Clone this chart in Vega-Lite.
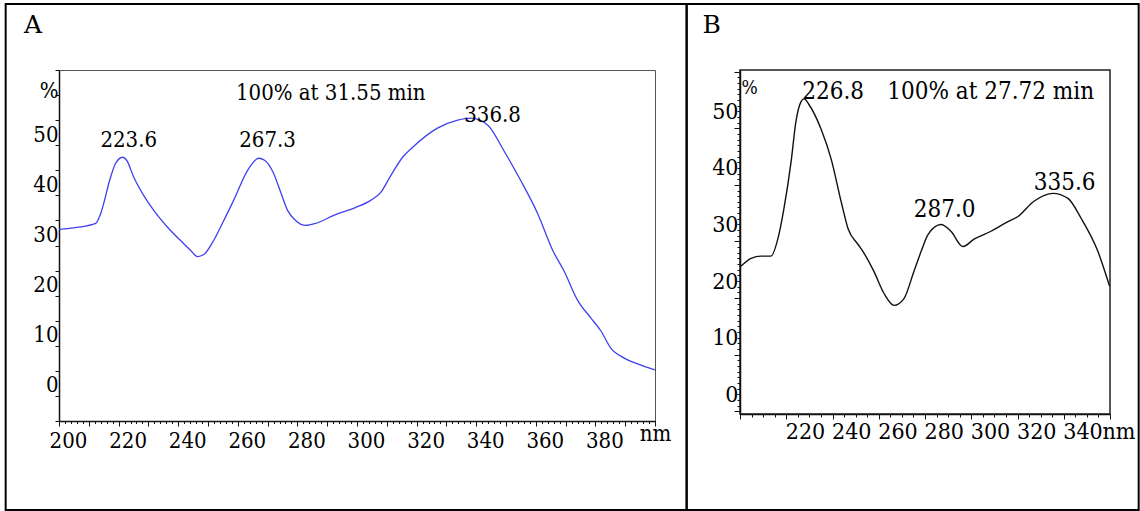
{
  "$schema": "https://vega.github.io/schema/vega-lite/v6.json",
  "padding": {"left": 4, "top": 2, "right": 0, "bottom": 0},
  "bounds": "flush",
  "spacing": 85,
  "background": "white",
  "config": {"font": "DejaVu Serif Condensed", "axis": {"labelFont": "DejaVu Serif Condensed", "labelColor": "#000", "grid": false, "labelOverlap": false, "labelFlush": false, "labelBound": false}},
  "hconcat": [
    {
      "width": 596,
      "height": 351,
      "view": {"stroke": "#555", "strokeWidth": 1},
      "layer": [
        {
          "data": {"values": [
            {"nm": 200, "pct": 28.2}, {"nm": 206, "pct": 28.6}, {"nm": 212.3, "pct": 29.4}, {"nm": 214, "pct": 31.4},
            {"nm": 217.3, "pct": 38.6}, {"nm": 219, "pct": 41.4}, {"nm": 221.4, "pct": 42.6}, {"nm": 222.7, "pct": 42.0},
            {"nm": 225.1, "pct": 38.6}, {"nm": 228.4, "pct": 35.0}, {"nm": 231.8, "pct": 32.0}, {"nm": 236.5, "pct": 28.6},
            {"nm": 241.8, "pct": 25.4}, {"nm": 244.2, "pct": 24.0}, {"nm": 246.5, "pct": 22.8}, {"nm": 248.6, "pct": 23.2},
            {"nm": 251.9, "pct": 26.0}, {"nm": 255.3, "pct": 30.0}, {"nm": 258.6, "pct": 34.0}, {"nm": 263.3, "pct": 40.0},
            {"nm": 267.0, "pct": 42.4}, {"nm": 269.0, "pct": 42.0}, {"nm": 272.0, "pct": 39.4}, {"nm": 274.4, "pct": 35.6},
            {"nm": 276.7, "pct": 32.0}, {"nm": 279.4, "pct": 30.0}, {"nm": 282.8, "pct": 29.0}, {"nm": 286.1, "pct": 29.4},
            {"nm": 292.2, "pct": 31.0}, {"nm": 299.6, "pct": 32.6}, {"nm": 304.6, "pct": 34.0}, {"nm": 308.0, "pct": 35.6},
            {"nm": 311.0, "pct": 38.6}, {"nm": 315.3, "pct": 42.6}, {"nm": 318.7, "pct": 44.6}, {"nm": 327.0, "pct": 48.4},
            {"nm": 333.8, "pct": 50.0}, {"nm": 338.2, "pct": 50.4}, {"nm": 343.9, "pct": 49.0}, {"nm": 349.2, "pct": 44.0},
            {"nm": 354.9, "pct": 38.0}, {"nm": 360.6, "pct": 31.4}, {"nm": 365.7, "pct": 24.0}, {"nm": 369.4, "pct": 20.0},
            {"nm": 374.1, "pct": 14.0}, {"nm": 378.4, "pct": 10.6}, {"nm": 381.8, "pct": 8.0}, {"nm": 385.1, "pct": 4.6},
            {"nm": 389.5, "pct": 2.6}, {"nm": 394.2, "pct": 1.4}, {"nm": 400, "pct": 0.2}
          ]},
          "mark": {"type": "line", "color": "#4040f0", "strokeWidth": 1.3, "interpolate": "monotone"},
          "encoding": {
            "x": {
              "field": "nm", "type": "quantitative",
              "scale": {"domain": [200, 400], "nice": false, "zero": false},
              "axis": {
                "title": null,
                "tickCount": 1000,
                "values": [200,202,204,206,208,210,212,214,216,218,220,222,224,226,228,230,232,234,236,238,240,242,244,246,248,250,252,254,256,258,260,262,264,266,268,270,272,274,276,278,280,282,284,286,288,290,292,294,296,298,300,302,304,306,308,310,312,314,316,318,320,322,324,326,328,330,332,334,336,338,340,342,344,346,348,350,352,354,356,358,360,362,364,366,368,370,372,374,376,378,380,382,384,386,388,390,392,394,396,398,400],
                "labelOverlap": false, "labelBound": false, "labelFlush": false,
                "domainColor": "#111", "domainWidth": 1.5,
                "tickColor": "#111", "tickWidth": 1,
                "tickSize": {"condition": {"test": "datum.value % 10 === 0", "value": 5}, "value": 2.5},
                "labelExpr": "datum.value === 400 ? 'nm' : (datum.value % 20 === 0 ? format(datum.value, 'd') : '')",
                "labelFontSize": 22,
                "labelOffset": {"condition": {"test": "datum.value === 400", "value": 0}, "value": 9},
                "labelPadding": {"condition": {"test": "datum.value === 400", "value": -3}, "value": 4}
              }
            },
            "y": {
              "field": "pct", "type": "quantitative",
              "scale": {"domain": [-10, 60], "nice": false, "zero": false},
              "axis": {
                "title": null,
                "tickCount": 1000,
                "values": [-10,-5,0,5,10,15,20,25,30,35,40,45,50,55,60],
                "labelOverlap": false, "labelBound": false, "labelFlush": false,
                "domainColor": "#111", "domainWidth": 1.5,
                "tickColor": "#111", "tickWidth": 1, "tickSize": 4,
                "labelExpr": "datum.value === 60 ? '%' : (datum.value >= 0 && datum.value % 10 === 0 ? format(datum.value, 'd') : '')",
                "labelFontSize": 22,
                "labelBaseline": "middle",
                "labelOffset": {"condition": {"test": "datum.value === 60", "value": 20}, "value": 14},
                "labelPadding": -3
              }
            }
          }
        },
        {
          "data": {"values": [{}]},
          "mark": {"type": "rect", "filled": false, "stroke": "#000", "strokeWidth": 2, "clip": false},
          "encoding": {
            "x": {"datum": 182.1, "type": "quantitative", "scale": {"domain": [200, 400], "nice": false, "zero": false}},
            "x2": {"datum": 410.6},
            "y": {"datum": 73.16, "type": "quantitative", "scale": {"domain": [-10, 60], "nice": false, "zero": false}},
            "y2": {"datum": -27.75}
          }
        },
        {
          "data": {"values": [
            {"nm": 223.4, "pct": 46.05, "label": "223.6"},
            {"nm": 270.0, "pct": 46.05, "label": "267.3"},
            {"nm": 345.5, "pct": 51.04, "label": "336.8"},
            {"nm": 291.2, "pct": 55.4, "label": "100% at 31.55 min"}
          ]},
          "mark": {"type": "text", "font": "DejaVu Serif Condensed", "fontSize": 22, "align": "center", "baseline": "middle", "color": "#000"},
          "encoding": {
            "x": {"field": "nm", "type": "quantitative", "scale": {"domain": [200, 400], "nice": false, "zero": false}},
            "y": {"field": "pct", "type": "quantitative", "scale": {"domain": [-10, 60], "nice": false, "zero": false}},
            "text": {"field": "label"}
          }
        },
        {
          "data": {"values": [{"nm": 191.3, "pct": 69.0, "label": "A"}]},
          "mark": {"type": "text", "font": "DejaVu Serif", "fontSize": 25, "align": "center", "baseline": "middle", "color": "#000", "clip": false},
          "encoding": {
            "x": {"field": "nm", "type": "quantitative", "scale": {"domain": [200, 400], "nice": false, "zero": false}},
            "y": {"field": "pct", "type": "quantitative", "scale": {"domain": [-10, 60], "nice": false, "zero": false}},
            "text": {"field": "label"}
          }
        }
      ]
    },
    {
      "width": 370,
      "height": 344,
      "view": {"stroke": "#222", "strokeWidth": 1.5},
      "layer": [
        {
          "data": {"values": [
            {"nm": 200.4, "pct": 25.6}, {"nm": 204.8, "pct": 27.0}, {"nm": 209.1, "pct": 27.4}, {"nm": 213.4, "pct": 27.4},
            {"nm": 216.4, "pct": 30.5}, {"nm": 219.0, "pct": 35.8}, {"nm": 222.1, "pct": 44.1}, {"nm": 224.2, "pct": 51.2},
            {"nm": 226.4, "pct": 54.7}, {"nm": 227.7, "pct": 55.2}, {"nm": 229.8, "pct": 54.2}, {"nm": 235.0, "pct": 49.9},
            {"nm": 239.4, "pct": 44.6}, {"nm": 243.7, "pct": 37.1}, {"nm": 246.7, "pct": 32.3}, {"nm": 251.0, "pct": 29.5},
            {"nm": 253.2, "pct": 28.2}, {"nm": 257.9, "pct": 24.7}, {"nm": 262.3, "pct": 20.8}, {"nm": 266.6, "pct": 18.7},
            {"nm": 270.9, "pct": 19.9}, {"nm": 275.2, "pct": 24.7}, {"nm": 278.3, "pct": 28.2}, {"nm": 281.3, "pct": 31.2},
            {"nm": 286.9, "pct": 33.0}, {"nm": 291.2, "pct": 31.8}, {"nm": 296.4, "pct": 29.1}, {"nm": 301.2, "pct": 30.4},
            {"nm": 308.5, "pct": 31.8}, {"nm": 315.9, "pct": 33.5}, {"nm": 320.2, "pct": 34.4}, {"nm": 327.1, "pct": 37.1},
            {"nm": 335.4, "pct": 38.5}, {"nm": 341.8, "pct": 37.6}, {"nm": 347.5, "pct": 34.1}, {"nm": 354.8, "pct": 28.2},
            {"nm": 359.8, "pct": 22.1}
          ]},
          "mark": {"type": "line", "color": "#111", "strokeWidth": 1.4, "interpolate": "monotone"},
          "encoding": {
            "x": {
              "field": "nm", "type": "quantitative",
              "scale": {"domain": [200, 360], "nice": false, "zero": false},
              "axis": {
                "title": null,
                "tickCount": 1000,
                "values": [200,205,210,215,220,225,230,235,240,245,250,255,260,265,270,275,280,285,290,295,300,305,310,315,320,325,330,335,340,345,350,355,360],
                "labelOverlap": false, "labelBound": false, "labelFlush": false,
                "domainColor": "#111", "domainWidth": 1.5,
                "tickColor": "#111", "tickWidth": 1,
                "tickSize": {"condition": {"test": "datum.value % 20 === 0", "value": 5}, "value": 3},
                "labelExpr": "datum.value === 360 ? 'nm' : (datum.value > 200 && datum.value % 20 === 0 ? format(datum.value, 'd') : '')",
                "labelFontSize": 23,
                "labelAlign": "left",
                "labelOffset": {"condition": {"test": "datum.value === 360", "value": -8}, "value": -1},
                "labelPadding": 1
              }
            },
            "y": {
              "field": "pct", "type": "quantitative",
              "scale": {"domain": [-0.5, 60.3], "nice": false, "zero": false},
              "axis": {
                "title": null,
                "tickCount": 1000,
                "values": [0,1,2,3,4,5,6,7,8,9,10,11,12,13,14,15,16,17,18,19,20,21,22,23,24,25,26,27,28,29,30,31,32,33,34,35,36,37,38,39,40,41,42,43,44,45,46,47,48,49,50,51,52,53,54,55,56,57,58,59,60],
                "labelOverlap": false, "labelBound": false, "labelFlush": false,
                "domainColor": "#111", "domainWidth": 1.5,
                "tickColor": "#111", "tickWidth": 1,
                "tickSize": {"condition": {"test": "datum.value % 10 === 0", "value": 6}, "value": 3},
                "labelExpr": "datum.value === 60 ? '%' : (datum.value % 10 === 0 ? format(datum.value, 'd') : '')",
                "labelFontSize": {"condition": {"test": "datum.value === 60", "value": 19}, "value": 23},
                "labelBaseline": "middle",
                "labelAlign": {"condition": {"test": "datum.value === 60", "value": "left"}, "value": "right"},
                "labelOffset": {"condition": {"test": "datum.value === 60", "value": 16}, "value": -17},
                "labelPadding": {"condition": {"test": "datum.value === 60", "value": -7}, "value": -4}
              }
            }
          }
        },
        {
          "data": {"values": [{}]},
          "mark": {"type": "rect", "filled": false, "stroke": "#000", "strokeWidth": 2, "clip": false},
          "encoding": {
            "x": {"datum": 176.95, "type": "quantitative", "scale": {"domain": [200, 360], "nice": false, "zero": false}},
            "x2": {"datum": 372.4},
            "y": {"datum": 71.96, "type": "quantitative", "scale": {"domain": [-0.5, 60.3], "nice": false, "zero": false}},
            "y2": {"datum": -17.47}
          }
        },
        {
          "data": {"values": [
            {"nm": 240.3, "pct": 56.41, "label": "226.8"},
            {"nm": 308.4, "pct": 56.41, "label": "100% at 27.72 min"},
            {"nm": 288.5, "pct": 35.56, "label": "287.0"},
            {"nm": 340.4, "pct": 40.24, "label": "335.6"}
          ]},
          "mark": {"type": "text", "font": "DejaVu Serif Condensed", "fontSize": 24, "align": "center", "baseline": "middle", "color": "#000"},
          "encoding": {
            "x": {"field": "nm", "type": "quantitative", "scale": {"domain": [200, 360], "nice": false, "zero": false}},
            "y": {"field": "pct", "type": "quantitative", "scale": {"domain": [-0.5, 60.3], "nice": false, "zero": false}},
            "text": {"field": "label"}
          }
        },
        {
          "data": {"values": [{"nm": 187.8, "pct": 68.25, "label": "B"}]},
          "mark": {"type": "text", "font": "DejaVu Serif", "fontSize": 25, "align": "center", "baseline": "middle", "color": "#000", "clip": false},
          "encoding": {
            "x": {"field": "nm", "type": "quantitative", "scale": {"domain": [200, 360], "nice": false, "zero": false}},
            "y": {"field": "pct", "type": "quantitative", "scale": {"domain": [-0.5, 60.3], "nice": false, "zero": false}},
            "text": {"field": "label"}
          }
        }
      ]
    }
  ]
}
